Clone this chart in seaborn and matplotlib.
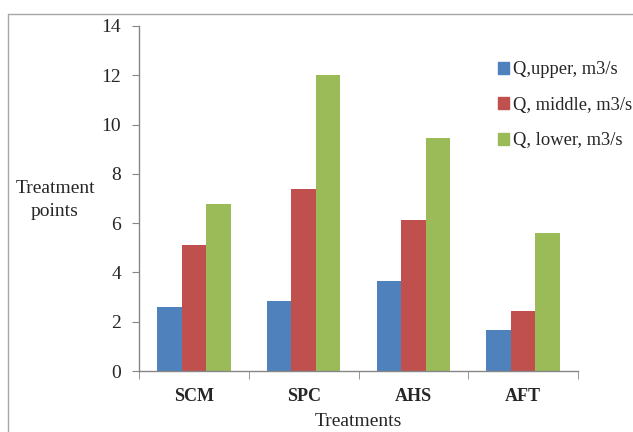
import numpy as np
import pandas as pd
import matplotlib
matplotlib.use('Agg')
import matplotlib.pyplot as plt
from matplotlib.lines import Line2D
import seaborn as sns

# 数据
treatments = ['SCM', 'SPC', 'AHS', 'AFT']
series_names = ['Q,upper, m3/s', 'Q, middle, m3/s', 'Q, lower, m3/s']
q_upper = [2.6, 2.84, 3.64, 1.66]
q_middle = [5.1, 7.37, 6.13, 2.42]
q_lower = [6.76, 12.02, 9.44, 5.62]
colors = ['#4F81BD', '#C0504D', '#9BBB59']

df = pd.DataFrame({
    'Treatment': treatments * 3,
    'Series': [series_names[0]] * 4 + [series_names[1]] * 4 + [series_names[2]] * 4,
    'Value': q_upper + q_middle + q_lower,
})

sns.set_style('white')
plt.rcParams['font.family'] = ['Liberation Serif', 'DejaVu Serif']

fig = plt.figure(figsize=(6.33, 4.32), dpi=100)
ax = fig.add_axes([139 / 633, 1 - 371 / 432, (578 - 139) / 633, (371 - 26) / 432])

sns.barplot(data=df, x='Treatment', y='Value', hue='Series', palette=colors,
            width=0.67, gap=0, saturation=1, linewidth=0, ax=ax, legend=False)

ax.set_ylim(0, 14)
ax.set_xlim(-0.5, 3.5)
ax.set_yticks(np.arange(0, 15, 2))
ax.tick_params(axis='y', labelsize=14, length=5, color='#868686', direction='out', left=True, pad=8)
ax.tick_params(axis='x', which='major', length=0, labelsize=13, pad=12)
ax.set_xticks(np.arange(-0.5, 4, 1), minor=True)
ax.tick_params(axis='x', which='minor', length=6, color='#868686', direction='out', bottom=True)
for lab in ax.get_xticklabels():
    lab.set_fontweight('bold')

for s in ['top', 'right']:
    ax.spines[s].set_visible(False)
for s in ['left', 'bottom']:
    ax.spines[s].set_color('#868686')
    ax.spines[s].set_linewidth(1)

ax.set_xlabel('Treatments', fontsize=14, labelpad=6)
ax.set_ylabel('')
fig.text(55 / 633, 1 - 200 / 432, 'Treatment\npoints', ha='center', va='center',
         fontsize=14, linespacing=1.4)

# 图例
handles = [plt.Rectangle((0, 0), 1, 1, color=c) for c in colors]
fig.legend(handles, series_names, loc='upper left', bbox_to_anchor=(491 / 633, 1 - 54 / 432),
           frameon=False, fontsize=13.3, handlelength=0.6, handleheight=0.6,
           handletextpad=0.2, labelspacing=1.0, borderaxespad=0)

# 图表区域边框
fig.add_artist(Line2D([8 / 633, 8 / 633], [0, 1 - 14 / 432], color='#a6a6a6', lw=1,
                      transform=fig.transFigure))
fig.add_artist(Line2D([8 / 633, 1], [1 - 14 / 432, 1 - 14 / 432], color='#a6a6a6', lw=1,
                      transform=fig.transFigure))

fig.savefig('out.png', dpi=100)
